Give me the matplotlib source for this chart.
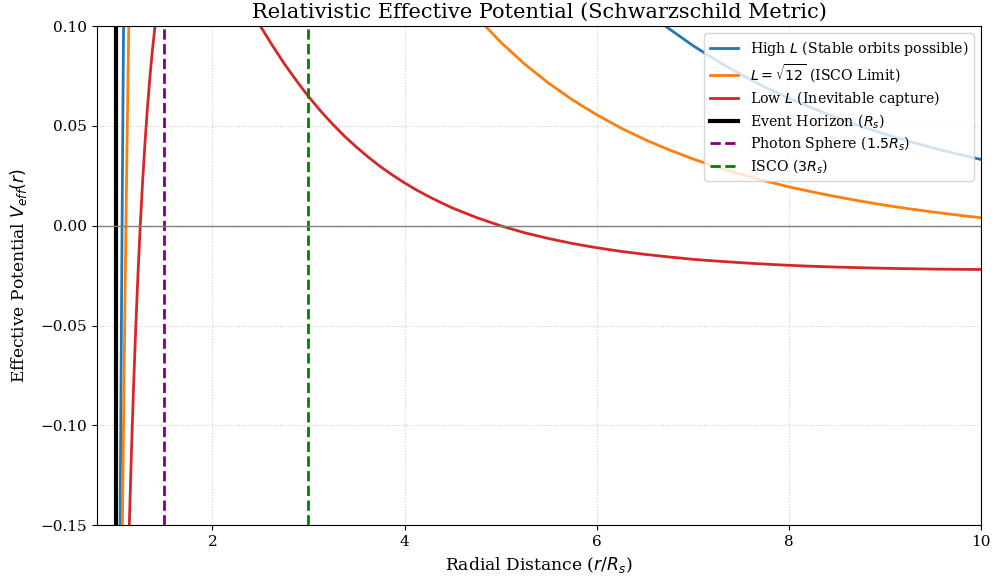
import matplotlib
matplotlib.use('Agg')
import matplotlib.pyplot as plt

plt.rcParams['font.family'] = 'DejaVu Serif'
plt.rcParams['font.size'] = 11

# valeurs (r en unites de R_s)
r_high = [1.0, 1.02, 1.04, 1.05, 1.06, 1.07, 1.08, 2.0, 4.0, 6.0, 6.5, 6.75, 7.0, 7.25,
          7.5, 7.75, 8.0, 8.25, 8.5, 8.75, 9.0, 9.25, 9.5, 9.75, 10.0]
v_high = [-0.5, -0.316, -0.152, -0.0769, -0.006, 0.061, 0.1242, 0.906, 0.3084, 0.1307,
          0.1082, 0.0988, 0.0903, 0.0827, 0.0758, 0.0695, 0.0639, 0.0588, 0.0541, 0.0498,
          0.0459, 0.0423, 0.039, 0.036, 0.0332]

r_isco = [1.0, 1.02, 1.04, 1.05, 1.06, 1.07, 1.08, 1.09, 1.10, 1.11, 1.12, 1.13, 1.14,
          2.0, 3.0, 4.0, 4.5, 4.75, 5.0, 5.25, 5.5, 5.75, 6.0, 6.25, 6.5, 6.75, 7.0, 7.25,
          7.5, 7.75, 8.0, 8.25, 8.5, 8.75, 9.0, 9.25, 9.5, 9.75, 10.0]
v_isco = [-0.5, -0.3771, -0.2674, -0.217, -0.1694, -0.1244, -0.0819, -0.0417, -0.0038,
          0.0321, 0.0661, 0.0981, 0.1284, 0.5, 0.2778, 0.1563, 0.1193, 0.1047, 0.092,
          0.081, 0.0714, 0.063, 0.0556, 0.049, 0.0432, 0.0381, 0.0335, 0.0294, 0.0258,
          0.0225, 0.0195, 0.0169, 0.0145, 0.0123, 0.0103, 0.0085, 0.0069, 0.0054, 0.004]

r_low = [1.0, 1.02, 1.04, 1.06, 1.08, 1.10, 1.12, 1.14, 1.16, 1.18, 1.20, 1.225, 1.25,
         1.275, 1.30, 1.325, 1.35, 1.375, 1.40, 1.45, 1.5, 1.75, 2.0, 2.25, 2.5, 2.625,
         2.75, 2.875, 3.0, 3.125, 3.25, 3.375, 3.5, 3.625, 3.75, 3.875, 4.0, 4.125, 4.25,
         4.375, 4.5, 4.75, 5.0, 5.25, 5.5, 5.75, 6.0, 6.25, 6.5, 6.75, 7.0, 7.25, 7.5,
         7.75, 8.0, 8.25, 8.5, 8.75, 9.0, 9.25, 9.5, 9.75, 10.0]
v_low = [-0.5, -0.4313, -0.3696, -0.3143, -0.2645, -0.2198, -0.1795, -0.1433, -0.1107,
         -0.0814, -0.055, -0.0257, 0.0, 0.0225, 0.0421, 0.0592, 0.0742, 0.0872, 0.0984,
         0.1164, 0.1296, 0.1516, 0.1406, 0.1207, 0.1, 0.0903, 0.0811, 0.0727, 0.0648,
         0.0576, 0.051, 0.0449, 0.0394, 0.0343, 0.0296, 0.0254, 0.0215, 0.0179, 0.0147,
         0.0117, 0.0089, 0.0041, 0.0, -0.0035, -0.0064, -0.0089, -0.011, -0.0128, -0.0143,
         -0.0156, -0.0168, -0.0177, -0.0185, -0.0192, -0.0198, -0.0203, -0.0207, -0.021,
         -0.0213, -0.0215, -0.0217, -0.0218, -0.0219]

r_horizon = 1.0
r_photon = 1.5
r_isco_line = 3.0

fig, ax = plt.subplots(figsize=(9.95, 5.81), dpi=100)
fig.subplots_adjust(left=0.0975, right=0.986, top=0.955, bottom=0.096)

ax.plot(r_high, v_high, color='tab:blue', lw=2, label='High $L$ (Stable orbits possible)')
ax.plot(r_isco, v_isco, color='tab:orange', lw=2, label=r'$L=\sqrt{12}$ (ISCO Limit)')
ax.plot(r_low, v_low, color='tab:red', lw=2, label='Low $L$ (Inevitable capture)')

ax.axvline(r_horizon, color='black', lw=3, label='Event Horizon ($R_s$)')
ax.axvline(r_photon, color='purple', ls='--', lw=2, label='Photon Sphere ($1.5R_s$)')
ax.axvline(r_isco_line, color='green', ls='--', lw=2, label='ISCO ($3R_s$)')
ax.axhline(0, color='gray', lw=1)

ax.set_xlim(0.8, 10)
ax.set_ylim(-0.15, 0.1)
ax.set_title('Relativistic Effective Potential (Schwarzschild Metric)', fontsize=15)
ax.set_xlabel('Radial Distance ($r/R_s$)', fontsize=12.3)
ax.set_ylabel('Effective Potential $V_{eff}(r)$', fontsize=12.3, labelpad=8)
ax.grid(True, linestyle=':', alpha=0.6)
ax.legend(loc='upper right', fontsize=10.2, labelspacing=0.3)

fig.savefig('out.png', dpi=100)
